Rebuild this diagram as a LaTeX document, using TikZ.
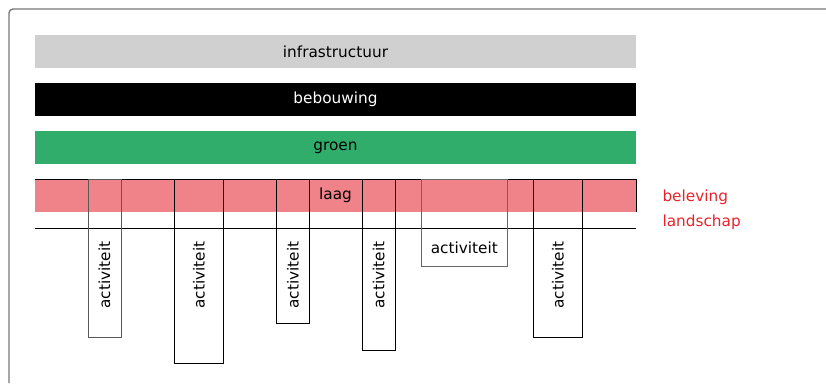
\documentclass[tikz,border=0pt]{standalone}
\usepackage{fontspec}
\setmainfont{DejaVu Sans}
\usetikzlibrary{positioning}

\definecolor{barGrey}{HTML}{D0D0D0}
\definecolor{barGreen}{HTML}{30AD6A}
\definecolor{barPink}{HTML}{F0828A}
\definecolor{labelRed}{HTML}{E8222A}
\definecolor{frameGrey}{HTML}{767676}

\begin{document}
\begin{tikzpicture}[
    x=1pt, y=-1pt,
    node distance=15pt,
    every node/.style={font=\fontsize{15.3}{18}\selectfont, inner sep=0pt, outer sep=0pt},
    layer/.style={
        minimum width=601pt,
        minimum height=33pt
    },
    actbox/.style={
        draw,
        line width=0.8pt,
        anchor=north west
    },
    legend/.style={text=labelRed, anchor=base west}
]
\useasboundingbox (0,0) rectangle (826,383);

% kader
\draw[frameGrey, line width=1.4pt, rounded corners=4pt] (9,383) -- (9,9) -- (826,9);

% lagen
\node[layer, fill=barGrey, anchor=north west] (infra) at (35,35) {infrastructuur};
\node[layer, fill=black, text=white, below=of infra] (bebouwing) {bebouwing};
\node[layer, fill=barGreen, below=of bebouwing] (groen) {groen};
\node[layer, fill=barPink, below=of groen] (laag) {laag};

\draw[line width=0.8pt] (laag.north west) -- (laag.north east) -- (laag.south east);
\draw[line width=0.8pt] ([yshift=-16pt]laag.south west) -- ([yshift=-16pt]laag.south east);

% activiteiten
\node[actbox, draw=black!65, minimum width=33pt, minimum height=158pt] (act1) at (88,179) {};
\node[actbox, minimum width=48.6pt, minimum height=184pt] (act2) at (174.7,179) {};
\node[actbox, minimum width=32.6pt, minimum height=144pt] (act3) at (276.7,179) {};
\node[actbox, minimum width=32.7pt, minimum height=171pt] (act4) at (362.3,179) {};
\node[actbox, draw=black!60, minimum width=85.3pt, minimum height=87.3pt] (act5) at (421.7,179) {};
\node[actbox, minimum width=49.4pt, minimum height=158pt] (act6) at (533.3,179) {};

\foreach \a in {1,2,3,4,6}
    \node[rotate=90] (txt\a) at ([yshift=-96pt]act\a.north) {activiteit};
\node (txt5) at ([yshift=-68.5pt]act5.north) {activiteit};

% legenda
\node[legend] (beleving) at (662.5,201.5) {beleving};
\node[legend] (landschap) at (662.5,226) {landschap};
\end{tikzpicture}
\end{document}
